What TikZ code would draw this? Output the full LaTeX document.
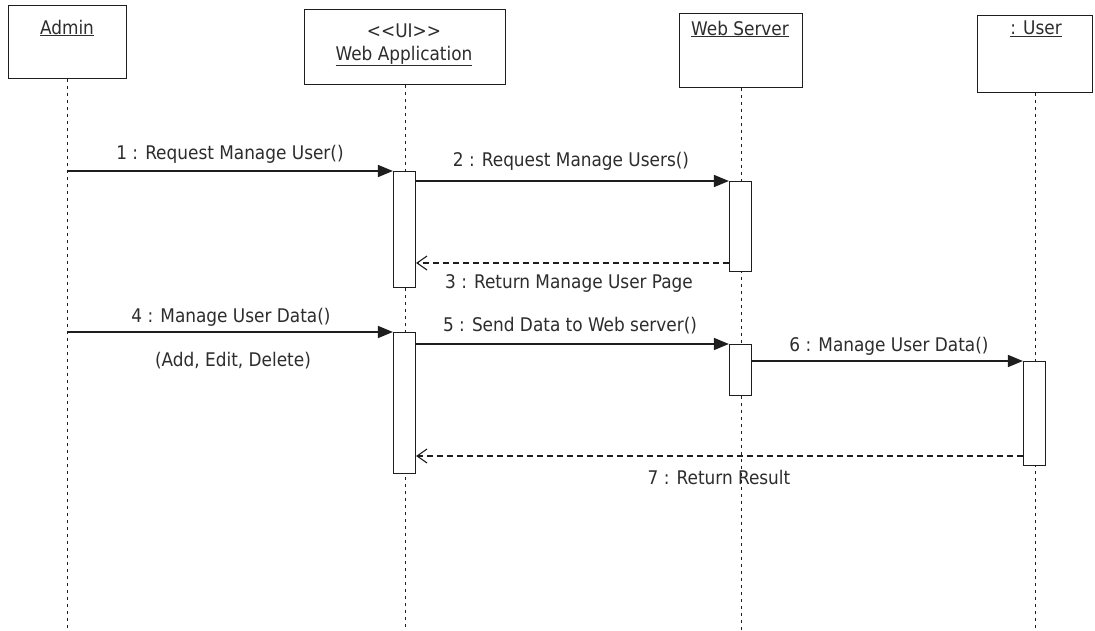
\documentclass[tikz,border=0pt]{standalone}
\usepackage{fontspec}
\setmainfont{DejaVu Sans Condensed}
\usetikzlibrary{arrows.meta}
\definecolor{ink}{RGB}{30,30,30}
\definecolor{txt}{RGB}{45,45,45}
\begin{document}
\begin{tikzpicture}[x=1pt,y=-1pt,
  obj/.style={draw=ink, line width=1.4pt, fill=white, inner sep=0pt, anchor=north west},
  act/.style={draw=ink, line width=1.2pt, fill=white, minimum width=22pt, inner sep=0pt, anchor=north},
  lbl/.style={text=txt, font=\fontsize{18.8}{22}\selectfont, inner sep=0pt},
  life/.style={draw=ink, line width=1.1pt, dash pattern=on 3pt off 4pt},
  msg/.style={draw=ink, line width=1.5pt, -{Triangle[length=15pt,width=12pt]}},
  ret/.style={draw=ink, line width=1.1pt, dash pattern=on 6pt off 4pt, -{Straight Barb[length=10pt,width=14pt]}}]
\useasboundingbox (0,0) rectangle (1095,631);
\fill[white] (0,0) rectangle (1095,631);
\coordinate (bot) at (0,631);
% object boxes
\node[obj, minimum width=118pt, minimum height=73pt] (admin) at (8,5) {};
\node[obj, minimum width=201pt, minimum height=75pt] (webapp) at (304,9) {};
\node[obj, minimum width=123pt, minimum height=74pt] (server) at (679,13) {};
\node[obj, minimum width=115pt, minimum height=77pt] (user) at (977,15) {};
\node[lbl] (adminT) at (67,28) {\underline{Admin}};
\node[lbl] (webappS) at (404,31) {<{}<UI>{}>};
\node[lbl] (webappT) at (404,56) {\underline{Web Application}};
\node[lbl] (serverT) at (740,29) {\underline{Web Server}};
\node[lbl] (userT) at (1036,29) {\underline{: User}};
% lifelines
\draw[life] (admin.south) -- (admin.south |- bot);
\draw[life] (webapp.south) -- (webapp.south |- bot);
\draw[life] (server.south) -- (server.south |- bot);
\draw[life] (user.south) -- (user.south |- bot);
% activations
\node[act, minimum height=116pt] (wa1) at (404.5,171) {};
\node[act, minimum height=90pt] (ws1) at (740.5,181) {};
\node[act, minimum height=141pt] (wa2) at (404.5,332) {};
\node[act, minimum height=51pt] (ws2) at (740.5,344) {};
\node[act, minimum height=104pt] (u1) at (1034.5,361) {};
% messages
\coordinate (y3) at (0,263);
\coordinate (y7) at (0,456);
\draw[msg] (admin.south |- wa1.north) -- (wa1.north west);
\draw[msg] (wa1.east |- ws1.north) -- (ws1.north west);
\draw[ret] (ws1.west |- y3) -- (wa1.east |- y3);
\draw[msg] (admin.south |- wa2.north) -- (wa2.north west);
\draw[msg] (wa2.east |- ws2.north) -- (ws2.north west);
\draw[msg] (ws2.east |- u1.north) -- (u1.north west);
\draw[ret] (u1.west |- y7) -- (wa2.east |- y7);
% labels
\node[lbl] (l1) at (230,154) {1 : Request Manage User()};
\node[lbl] (l2) at (571,161) {2 : Request Manage Users()};
\node[lbl] (l3) at (569,283) {3 : Return Manage User Page};
\node[lbl] (l4) at (231,317) {4 : Manage User Data()};
\node[lbl] (l4b) at (233,361) {(Add, Edit, Delete)};
\node[lbl] (l5) at (570,326) {5 : Send Data to Web server()};
\node[lbl] (l6) at (889,346) {6 : Manage User Data()};
\node[lbl] (l7) at (719,477) {7 : Return Result};
\end{tikzpicture}
\end{document}
